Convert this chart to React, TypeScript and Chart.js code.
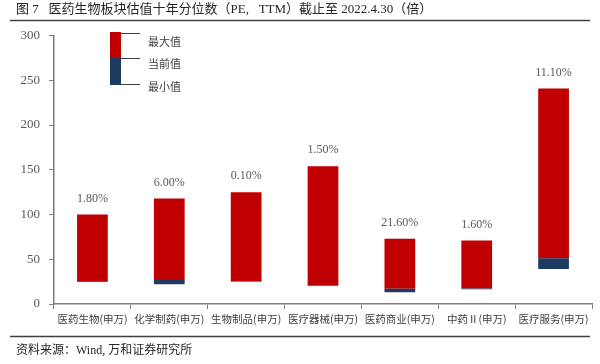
import React, { useEffect, useRef } from "react";
import { Chart, registerables } from "chart.js";

Chart.register(...registerables);

const categories = ["医药生物(申万)", "化学制药(申万)", "生物制品(申万)", "医疗器械(申万)", "医药商业(申万)", "中药Ⅱ(申万)", "医疗服务(申万)"];
const maxVals = [100, 118, 125, 154, 73, 71, 241];
const curVals = [25.5, 28, 25.3, 20.6, 17, 17.3, 51];
const minVals = [24.5, 22, 25, 20, 13, 16.5, 39];
const percentiles = ["1.80%", "6.00%", "0.10%", "1.50%", "21.60%", "1.60%", "11.10%"];
const yTicks = [0, 50, 100, 150, 200, 250, 300];

const RED = "#C00000";
const BLUE = "#1F3A60";
const SERIF = "'Liberation Serif', 'Noto Sans CJK SC', serif";
const CJK = "'Noto Sans CJK SC', 'Liberation Serif', sans-serif";

const decor = {
  id: "decor",
  afterDraw(chart: any) {
    const ctx = chart.ctx;
    ctx.save();
    // rules
    ctx.strokeStyle = "#404040";
    ctx.lineWidth = 1.5;
    ctx.beginPath();
    ctx.moveTo(10, 20.5);
    ctx.lineTo(590, 20.5);
    ctx.moveTo(10, 336.5);
    ctx.lineTo(590, 336.5);
    ctx.stroke();

    // percent labels
    const meta = chart.getDatasetMeta(1);
    const ys = chart.scales.y;
    ctx.fillStyle = "#595959";
    ctx.font = "12px " + SERIF;
    ctx.textAlign = "center";
    ctx.textBaseline = "middle";
    meta.data.forEach((bar: any, i: number) => {
      ctx.fillText(percentiles[i], bar.x, ys.getPixelForValue(maxVals[i]) - 16);
    });

    // custom legend
    ctx.fillStyle = RED;
    ctx.fillRect(110, 32, 11, 26);
    ctx.fillStyle = BLUE;
    ctx.fillRect(110, 58, 11, 27);
    ctx.strokeStyle = "#404040";
    ctx.lineWidth = 1;
    ctx.beginPath();
    ctx.moveTo(121, 33.5);
    ctx.lineTo(140, 33.5);
    ctx.moveTo(121, 58.5);
    ctx.lineTo(140, 58.5);
    ctx.moveTo(121, 84.5);
    ctx.lineTo(140, 84.5);
    ctx.stroke();
    ctx.fillStyle = "#404040";
    ctx.font = "11px " + CJK;
    ctx.textAlign = "left";
    ctx.fillText("最大值", 148, 42);
    ctx.fillText("当前值", 148, 64);
    ctx.fillText("最小值", 148, 87);
    ctx.restore();
  },
};

export default function App() {
  const ref = useRef<HTMLCanvasElement>(null);
  useEffect(() => {
    document.body.style.margin = "0";
    const chart = new Chart(ref.current!, {
      type: "bar",
      data: {
        labels: categories,
        datasets: [
          {
            label: "最小值-当前值",
            data: categories.map((_, i) => [minVals[i], curVals[i]]),
            backgroundColor: BLUE,
            barPercentage: 0.4,
            categoryPercentage: 1,
          },
          {
            label: "当前值-最大值",
            data: categories.map((_, i) => [curVals[i], maxVals[i]]),
            backgroundColor: RED,
            barPercentage: 0.4,
            categoryPercentage: 1,
          },
        ],
      },
      options: {
        animation: false,
        responsive: false,
        layout: { padding: { left: 16, right: 8, top: 0, bottom: 0 } },
        plugins: {
          legend: { display: false },
          tooltip: { enabled: false },
          title: {
            display: true,
            text: "图 7   医药生物板块估值十年分位数（PE,   TTM）截止至 2022.4.30（倍）",
            align: "start",
            color: "#262626",
            font: { family: SERIF, size: 13, weight: "normal" },
            padding: { top: 2, bottom: 18 },
          },
          subtitle: {
            display: true,
            position: "bottom",
            text: "资料来源：Wind, 万和证券研究所",
            align: "start",
            color: "#262626",
            font: { family: SERIF, size: 12, weight: "normal" },
            padding: { top: 14, bottom: 6 },
          },
        },
        scales: {
          x: {
            stacked: true,
            grid: { display: true, drawOnChartArea: false, tickLength: 5, color: "#7f7f7f", offset: true },
            border: { display: true, color: "#7f7f7f", width: 1.5 },
            ticks: { color: "#404040", font: { family: CJK, size: 10.5 }, padding: 4, maxRotation: 0, autoSkip: false },
          },
          y: {
            stacked: false,
            min: 0,
            max: 300,
            afterBuildTicks: (s: any) => {
              s.ticks = yTicks.map((v) => ({ value: v }));
            },
            afterFit: (s: any) => {
              s.width = 38;
            },
            grid: { display: true, drawOnChartArea: false, tickLength: 5, color: "#7f7f7f" },
            border: { display: true, color: "#7f7f7f", width: 1.5 },
            ticks: { color: "#595959", font: { family: SERIF, size: 13 }, padding: 9 },
          },
        },
      },
      plugins: [decor],
    });
    return () => chart.destroy();
  }, []);
  return (
    <div style={{ width: 600, height: 364 }}>
      <canvas ref={ref} width={600} height={364} />
    </div>
  );
}
